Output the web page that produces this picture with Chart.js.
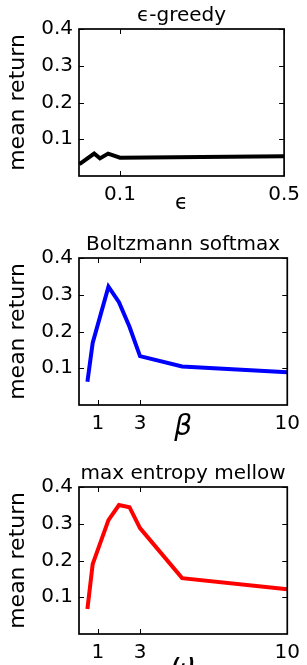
<!DOCTYPE html>
<html>
<head>
<meta charset="utf-8">
<script src="https://cdn.jsdelivr.net/npm/chart.js"></script>
<style>
  html, body { margin: 0; padding: 0; background: #fff; overflow: hidden; }
  .panel { width: 307px; height: 229px; }
</style>
</head>
<body>
<div class="panel"><canvas id="greedyChart" width="307" height="229"></canvas></div>
<div class="panel"><canvas id="softmaxChart" width="307" height="229"></canvas></div>
<div class="panel"><canvas id="mellowChart" width="307" height="229"></canvas></div>
<script>
// ------------------------------------------------------------
// data
// ------------------------------------------------------------
const epsValues = [0.001, 0.037, 0.051, 0.071, 0.1, 0.5];
const greedyReturn = [0.032, 0.061, 0.048, 0.061, 0.05, 0.054];

const betaValues = [0.5, 0.75, 1.5, 2, 2.5, 3, 5, 10];
const softmaxReturn = [0.063, 0.169, 0.322, 0.28, 0.213, 0.133, 0.105, 0.089];

const omegaValues = [0.5, 0.75, 1.5, 2, 2.5, 3, 5, 10];
const mellowReturn = [0.068, 0.19, 0.31, 0.351, 0.345, 0.288, 0.152, 0.122];

const yTicks = [0.1, 0.2, 0.3, 0.4];
const epsTicks = [0.1, 0.5];
const paramTicks = [1, 3, 10];

const FONT = 'DejaVu Sans';

// box around the axes + inward ticks on all four sides (matplotlib classic look)
const frameTicks = {
    id: 'frameTicks',
    afterDraw(chart) {
        const { ctx, chartArea: a, scales: { x, y } } = chart;
        const len = 5;
        ctx.save();
        ctx.strokeStyle = '#000';
        ctx.lineWidth = 1;
        ctx.beginPath();
        x.ticks.forEach(t => {
            const px = Math.round(x.getPixelForValue(t.value)) + 0.5;
            ctx.moveTo(px, a.bottom); ctx.lineTo(px, a.bottom - len);
            ctx.moveTo(px, a.top); ctx.lineTo(px, a.top + len);
        });
        y.ticks.forEach(t => {
            const py = Math.round(y.getPixelForValue(t.value)) + 0.5;
            ctx.moveTo(a.left, py); ctx.lineTo(a.left + len, py);
            ctx.moveTo(a.right, py); ctx.lineTo(a.right - len, py);
        });
        ctx.stroke();
        ctx.lineWidth = 1.7;
        ctx.strokeRect(a.left, a.top, a.width, a.height);
        ctx.restore();
    }
};

function makeChart(id, cfg) {
    new Chart(document.getElementById(id), {
        type: 'line',
        data: {
            datasets: [{
                data: cfg.xs.map((v, i) => ({ x: v, y: cfg.ys[i] })),
                borderColor: cfg.color,
                borderWidth: 4,
                pointRadius: 0,
                tension: 0,
                fill: false
            }]
        },
        options: {
            responsive: false,
            animation: false,
            layout: { padding: { left: 0, right: 15, top: 0, bottom: 0 } },
            plugins: {
                legend: { display: false },
                tooltip: { enabled: false },
                title: {
                    display: true,
                    fullSize: false,
                    text: cfg.title,
                    color: '#000',
                    font: { family: FONT, size: 20, weight: 'normal' },
                    padding: { top: 4, bottom: 1 }
                }
            },
            scales: {
                x: {
                    type: 'linear',
                    min: cfg.xmin,
                    max: cfg.xmax,
                    afterBuildTicks: s => { s.ticks = cfg.xticks.map(v => ({ value: v })); },
                    afterFit: s => { s.height = 53; },
                    grid: { display: false, drawTicks: false },
                    border: { display: false },
                    ticks: {
                        color: '#000',
                        font: { family: FONT, size: 20 },
                        padding: 7,
                        maxRotation: 0,
                        autoSkip: false,
                        callback: v => String(v)
                    },
                    title: {
                        display: true,
                        text: cfg.xlabel,
                        color: '#000',
                        font: { family: FONT, size: cfg.xlabelSize, style: cfg.xlabelStyle },
                        padding: { top: 0, bottom: cfg.xlabelPad }
                    }
                },
                y: {
                    min: 0,
                    max: 0.4,
                    afterBuildTicks: s => { s.ticks = yTicks.map(v => ({ value: v })); },
                    afterFit: s => { s.width = 79; },
                    grid: { display: false, drawTicks: false },
                    border: { display: false },
                    ticks: {
                        color: '#000',
                        font: { family: FONT, size: 20 },
                        padding: 6,
                        callback: v => v.toFixed(1)
                    },
                    title: {
                        display: true,
                        text: 'mean return',
                        color: '#000',
                        font: { family: FONT, size: 22 },
                        padding: { top: 5, bottom: 0 }
                    }
                }
            }
        },
        plugins: [frameTicks]
    });
}

makeChart('greedyChart', {
    title: 'ϵ-greedy', xs: epsValues, ys: greedyReturn, color: '#000000',
    xmin: 0, xmax: 0.5, xticks: epsTicks,
    xlabel: 'ϵ', xlabelSize: 21, xlabelStyle: 'normal', xlabelPad: 13
});
makeChart('softmaxChart', {
    title: 'Boltzmann softmax', xs: betaValues, ys: softmaxReturn, color: '#0000ff',
    xmin: 0.1, xmax: 10, xticks: paramTicks,
    xlabel: 'β', xlabelSize: 28, xlabelStyle: 'italic', xlabelPad: 13
});
makeChart('mellowChart', {
    title: 'max entropy mellow', xs: omegaValues, ys: mellowReturn, color: '#ff0000',
    xmin: 0.1, xmax: 10, xticks: paramTicks,
    xlabel: 'ω', xlabelSize: 28, xlabelStyle: 'italic', xlabelPad: 4
});
</script>
</body>
</html>
